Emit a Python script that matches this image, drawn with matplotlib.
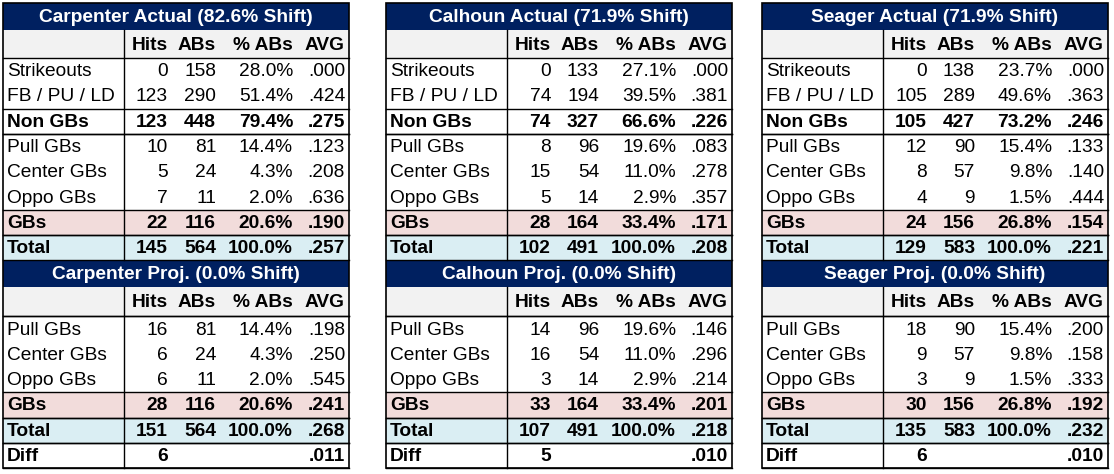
import matplotlib.pyplot as plt
from matplotlib.patches import Rectangle

players = ['Carpenter', 'Calhoun', 'Seager']
actual_shift = ['82.6%', '71.9%', '71.9%']
proj_shift = ['0.0%', '0.0%', '0.0%']

actual_labels = ['Strikeouts', 'FB / PU / LD', 'Non GBs', 'Pull GBs', 'Center GBs',
                 'Oppo GBs', 'GBs', 'Total']
actual_rows = [
    [['0', '158', '28.0%', '.000'], ['123', '290', '51.4%', '.424'], ['123', '448', '79.4%', '.275'],
     ['10', '81', '14.4%', '.123'], ['5', '24', '4.3%', '.208'], ['7', '11', '2.0%', '.636'],
     ['22', '116', '20.6%', '.190'], ['145', '564', '100.0%', '.257']],
    [['0', '133', '27.1%', '.000'], ['74', '194', '39.5%', '.381'], ['74', '327', '66.6%', '.226'],
     ['8', '96', '19.6%', '.083'], ['15', '54', '11.0%', '.278'], ['5', '14', '2.9%', '.357'],
     ['28', '164', '33.4%', '.171'], ['102', '491', '100.0%', '.208']],
    [['0', '138', '23.7%', '.000'], ['105', '289', '49.6%', '.363'], ['105', '427', '73.2%', '.246'],
     ['12', '90', '15.4%', '.133'], ['8', '57', '9.8%', '.140'], ['4', '9', '1.5%', '.444'],
     ['24', '156', '26.8%', '.154'], ['129', '583', '100.0%', '.221']],
]
proj_labels = ['Pull GBs', 'Center GBs', 'Oppo GBs', 'GBs', 'Total', 'Diff']
proj_rows = [
    [['16', '81', '14.4%', '.198'], ['6', '24', '4.3%', '.250'], ['6', '11', '2.0%', '.545'],
     ['28', '116', '20.6%', '.241'], ['151', '564', '100.0%', '.268'], ['6', '', '', '.011']],
    [['14', '96', '19.6%', '.146'], ['16', '54', '11.0%', '.296'], ['3', '14', '2.9%', '.214'],
     ['33', '164', '33.4%', '.201'], ['107', '491', '100.0%', '.218'], ['5', '', '', '.010']],
    [['18', '90', '15.4%', '.200'], ['9', '57', '9.8%', '.158'], ['3', '9', '1.5%', '.333'],
     ['30', '156', '26.8%', '.192'], ['135', '583', '100.0%', '.232'], ['6', '', '', '.010']],
]
col_heads = ['Hits', 'ABs', '% ABs', 'AVG']

NAVY = '#002060'
PINK = '#f2dcdb'
BLUE = '#daeef3'
GRAY = '#f2f2f2'
FS = 13.8

fig = plt.figure(figsize=(11.14, 4.74), dpi=100)
ax = fig.add_axes([0, 0, 1, 1])
ax.set_xlim(0, 1114)
ax.set_ylim(474, 0)
ax.axis('off')
plt.rcParams['font.family'] = ['Liberation Sans', 'DejaVu Sans']

lefts = [3, 386, 762]
width = 346
col_right = [165, 213, 290, 342]  # offsets from table left
div = 121

def hline(x0, y, lw=1.0):
    ax.plot([x0, x0 + width], [y, y], color='black', lw=lw)

def block(x0, y0, title, labels, rows, row_h, head_h):
    # title bar
    ax.add_patch(Rectangle((x0, y0), width, 27, color=NAVY, lw=0))
    ax.text(x0 + width / 2, y0 + 14, title, color='white', fontsize=FS, fontweight='bold',
            ha='center', va='center')
    y = y0 + 27
    ax.add_patch(Rectangle((x0, y), width, head_h, color=GRAY, lw=0))
    for c, h in enumerate(col_heads):
        ax.text(x0 + col_right[c], y + head_h / 2 + 1, h, fontsize=FS, fontweight='bold',
                ha='right', va='center')
    hline(x0, y + head_h)
    ytop = y
    y += head_h
    for lab, vals in zip(labels, rows):
        bold = lab in ('Non GBs', 'GBs', 'Total', 'Diff')
        if lab == 'GBs':
            ax.add_patch(Rectangle((x0, y), width, row_h, color=PINK, lw=0))
        if lab == 'Total':
            ax.add_patch(Rectangle((x0, y), width, row_h, color=BLUE, lw=0))
        if bold or lab == 'Pull GBs':
            hline(x0, y)
        fw = 'bold' if bold else 'normal'
        ax.text(x0 + 4, y + row_h / 2 + 1, lab, fontsize=FS, fontweight=fw, va='center')
        for c, v in enumerate(vals):
            ax.text(x0 + col_right[c], y + row_h / 2 + 1, v, fontsize=FS, fontweight=fw,
                    ha='right', va='center')
        if bold:
            hline(x0, y + row_h)
        y += row_h
    ax.plot([x0 + div, x0 + div], [ytop, y], color='black', lw=1.0)
    return y

for i, p in enumerate(players):
    x0 = lefts[i]
    y_end = block(x0, 3, f'{p} Actual ({actual_shift[i]} Shift)', actual_labels,
                  actual_rows[i], 25.3, 28)
    y_end2 = block(x0, y_end, f'{p} Proj. ({proj_shift[i]} Shift)', proj_labels,
                   proj_rows[i], 25.3, 29)
    ax.add_patch(Rectangle((x0, 3), width, y_end2 - 3, fill=False, ec='black', lw=1.2))

fig.savefig('out.png', dpi=100)
